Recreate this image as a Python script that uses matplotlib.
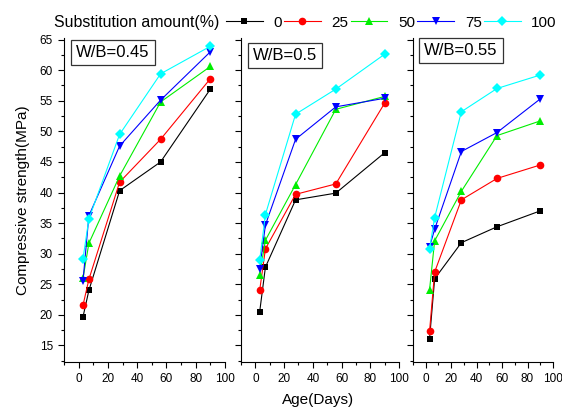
import numpy as np
import matplotlib.pyplot as plt
from matplotlib.ticker import MultipleLocator
from matplotlib.lines import Line2D

plt.rcParams['font.family'] = ['Liberation Sans', 'DejaVu Sans']

# curing age (days)
age = [3, 7, 28, 56, 90]

# substitution amount (%) and plotting styles
amounts = ['0', '25', '50', '75', '100']
colors = ['black', 'red', '#00ee00', 'blue', 'cyan']
markers = ['s', 'o', '^', 'v', 'D']
msizes = [5, 5.5, 6, 6, 5]

# compressive strength (MPa), one list per substitution amount
wb045 = [
    [19.7, 24.0, 40.3, 45.0, 56.9],
    [21.6, 25.8, 41.7, 48.7, 58.6],
    [26.0, 31.7, 42.7, 54.8, 60.6],
    [25.6, 36.2, 47.6, 55.1, 63.0],
    [29.2, 35.7, 49.5, 59.4, 63.9],
]
wb050 = [
    [20.5, 27.8, 38.8, 39.9, 46.5],
    [24.0, 30.8, 39.7, 41.4, 54.6],
    [26.6, 32.2, 41.3, 53.6, 55.7],
    [27.5, 34.7, 48.7, 54.0, 55.4],
    [28.9, 36.4, 52.8, 56.9, 62.6],
]
wb055 = [
    [16.1, 25.9, 31.8, 34.4, 37.0],
    [17.3, 27.0, 38.8, 42.3, 44.5],
    [24.1, 32.1, 40.2, 49.3, 51.7],
    [31.1, 34.0, 46.7, 49.8, 55.3],
    [30.8, 35.9, 53.2, 57.0, 59.2],
]
panel_titles = ['W/B=0.45', 'W/B=0.5', 'W/B=0.55']
panel_data = [wb045, wb050, wb055]

W, H = 562, 409
fig = plt.figure(figsize=(W / 100, H / 100), dpi=100)

# axes boxes in pixels: left, right, title-box left, title-box top
boxes = [(64, 225, 76, 45), (241, 399, 253, 48), (413, 553, 424, 43)]
top_px, bot_px = 37.7, 362

axes = []
for k, (x0, x1, tx, ty) in enumerate(boxes):
    ax = fig.add_axes([x0 / W, 1 - bot_px / H, (x1 - x0) / W, (bot_px - top_px) / H])
    for series, c, m, ms in zip(panel_data[k], colors, markers, msizes):
        ax.plot(age, series, color=c, marker=m, markersize=ms, lw=0.8,
                markeredgewidth=0, clip_on=False)
    ax.set_xlim(-10, 100)
    ax.set_ylim(12.3, 65.3)
    ax.spines['top'].set_visible(False)
    ax.spines['right'].set_visible(False)
    ax.xaxis.set_major_locator(MultipleLocator(20))
    ax.xaxis.set_minor_locator(MultipleLocator(10))
    ax.yaxis.set_major_locator(MultipleLocator(5))
    ax.yaxis.set_minor_locator(MultipleLocator(2.5))
    ax.tick_params(which='major', direction='out', length=4.5, width=0.8, labelsize=8.5)
    ax.tick_params(which='minor', direction='out', length=2.2, width=0.8)
    ax.set_xticks([0, 20, 40, 60, 80, 100])
    ax.set_yticks(np.arange(15, 66, 5))
    if k > 0:
        ax.tick_params(axis='y', labelleft=False)
    fig.text(tx / W, 1 - ty / H, panel_titles[k], fontsize=12, ha='left', va='top',
             bbox=dict(boxstyle='square,pad=0.3', fc='white', ec='#333333', lw=0.9))
    axes.append(ax)

axes[0].set_ylabel('Compressive strength(MPa)', fontsize=11)
axes[0].yaxis.set_label_coords(-0.21, 0.5)

fig.text(318 / W, 1 - 400 / H, 'Age(Days)', fontsize=11, ha='center', va='center')

# legend across the top
fig.text(54 / W, 1 - 22.7 / H, 'Substitution amount(%)', fontsize=11.4, ha='left', va='center')
handles = [Line2D([], [], color=c, marker=m, markersize=ms, lw=0.8, markeredgewidth=0)
           for c, m, ms in zip(colors, markers, msizes)]
fig.legend(handles, amounts, loc='center left', bbox_to_anchor=(226 / W, 1 - 22.7 / H),
           ncol=5, frameon=False, fontsize=11, handlelength=2.4, handletextpad=0.7,
           columnspacing=0.15, borderpad=0, borderaxespad=0)

fig.savefig('out.png', dpi=100)
